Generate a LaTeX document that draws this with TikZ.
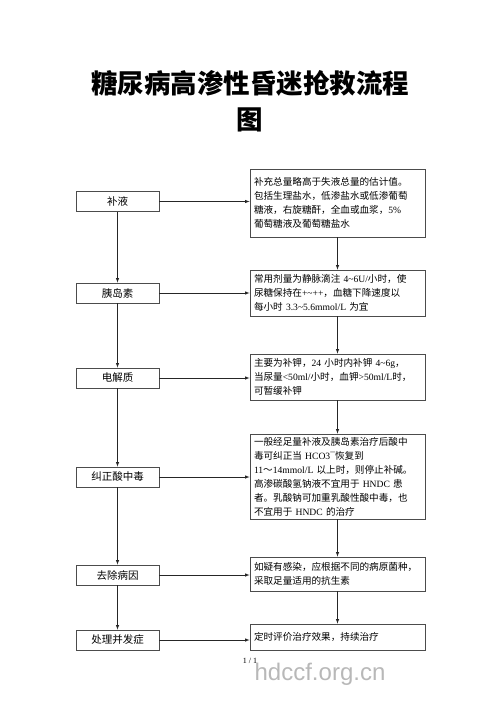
\documentclass[tikz,border=0pt]{standalone}
\usepackage{fontspec}
\setmainfont{Noto Sans CJK SC}
\newfontfamily\latin{Liberation Serif}
\newfontfamily\marksans{Liberation Sans}
\newcommand\en[1]{{\latin #1}}
\definecolor{boxgray}{rgb}{.3,.3,.3}
\definecolor{markgray}{rgb}{.72,.72,.72}

\begin{document}
\begin{tikzpicture}[x=1pt,y=-1pt,
    leftbox/.style={draw=boxgray,line width=.8pt,minimum width=83pt,minimum height=20pt,inner sep=0pt,font=\fontsize{10.5}{12}\selectfont},
    notebox/.style={draw=boxgray,line width=.8pt,text width=167pt,inner xsep=4pt,inner ysep=0pt,align=left,font=\fontsize{9.6}{14}\selectfont},
    link/.style={draw=black!85,line width=.6pt,-latex}]
  \useasboundingbox (0,0) rectangle (500,708);
  \node (title1) at (250,83) {\fontsize{26.5}{30}\selectfont\bfseries 糖尿病高渗性昏迷抢救流程};
  \node (title2) at (250,120) {\fontsize{26.5}{30}\selectfont\bfseries 图};

  % left column
  \node[leftbox] (lfluid) at (117.5,201.5) {补液};
  \node[leftbox] (linsulin) at (117.5,293) {胰岛素};
  \node[leftbox] (lelec) at (117.5,378) {电解质};
  \node[leftbox] (lacid) at (117.5,477) {纠正酸中毒};
  \node[leftbox] (lcause) at (117.5,575) {去除病因};
  \node[leftbox] (lcompl) at (117.5,640) {处理并发症};

  % right column
  \node[notebox,minimum height=68pt] (rfluid) at (337.5,203) {补充总量略高于失液总量的估计值。\\
    包括生理盐水，低渗盐水或低渗葡萄\\
    糖液，右旋糖酐，全血或血浆，\en{5\%}\\
    葡萄糖液及葡萄糖盐水};
  \node[notebox,minimum height=46pt] (rinsulin) at (337.5,293) {常用剂量为静脉滴注 \en{4\textasciitilde6U/}小时，使\\
    尿糖保持在\en{+\textasciitilde++}，血糖下降速度以\\
    每小时 \en{3.3\textasciitilde5.6mmol/L} 为宜};
  \node[notebox,minimum height=46pt] (relec) at (337.5,377) {主要为补钾，\en{24} 小时内补钾 \en{4\textasciitilde6g}，\\
    当尿量\en{<50ml/}小时，血钾\en{>50ml/L}时，\\
    可暂缓补钾};
  \node[notebox,minimum height=85pt] (racid) at (337.5,476.5) {一般经足量补液及胰岛素治疗后酸中\\
    毒可纠正当 \en{HCO3¯}恢复到\\
    \en{11}～\en{14mmol/L} 以上时，则停止补碱。\\
    高渗碳酸氢钠液不宜用于 \en{HNDC} 患\\
    者。乳酸钠可加重乳酸性酸中毒，也\\
    不宜用于 \en{HNDC} 的治疗};
  \node[notebox,minimum height=34pt] (rcause) at (337.5,574) {如疑有感染，应根据不同的病原菌种，\\
    采取足量适用的抗生素};
  \node[notebox,minimum height=26pt] (rcompl) at (337.5,637) {定时评价治疗效果，持续治疗};

  % connectors
  \draw[link] (lfluid.south) -- (linsulin.north);
  \draw[link] (linsulin.south) -- (lelec.north);
  \draw[link] (lelec.south) -- (lacid.north);
  \draw[link] (lacid.south) -- (lcause.north);
  \draw[link] (lcause.south) -- (lcompl.north);
  \draw[link] (rfluid.south) -- (rinsulin.north);
  \draw[link] (rinsulin.south) -- (relec.north);
  \draw[link] (relec.south) -- (racid.north);
  \draw[link] (racid.south) -- (rcause.north);
  \draw[link] (rcause.south) -- (rcompl.north);
  \draw[link] (lfluid.east) -- (lfluid.east -| rfluid.west);
  \draw[link] (linsulin.east) -- (linsulin.east -| rinsulin.west);
  \draw[link] (lelec.east) -- (lelec.east -| relec.west);
  \draw[link] (lacid.east) -- (lacid.east -| racid.west);
  \draw[link] (lcause.east) -- (lcause.east -| rcause.west);
  \draw[link] (lcompl.east) -- (lcompl.east -| rcompl.west);

  \node[font=\latin\fontsize{8}{9}\selectfont] (page) at (250,661) {1 / 1};
  \node[text=markgray,font=\marksans\fontsize{24}{26}\selectfont] (mark) at (320,674) {hdccf.org.cn};
\end{tikzpicture}
\end{document}
